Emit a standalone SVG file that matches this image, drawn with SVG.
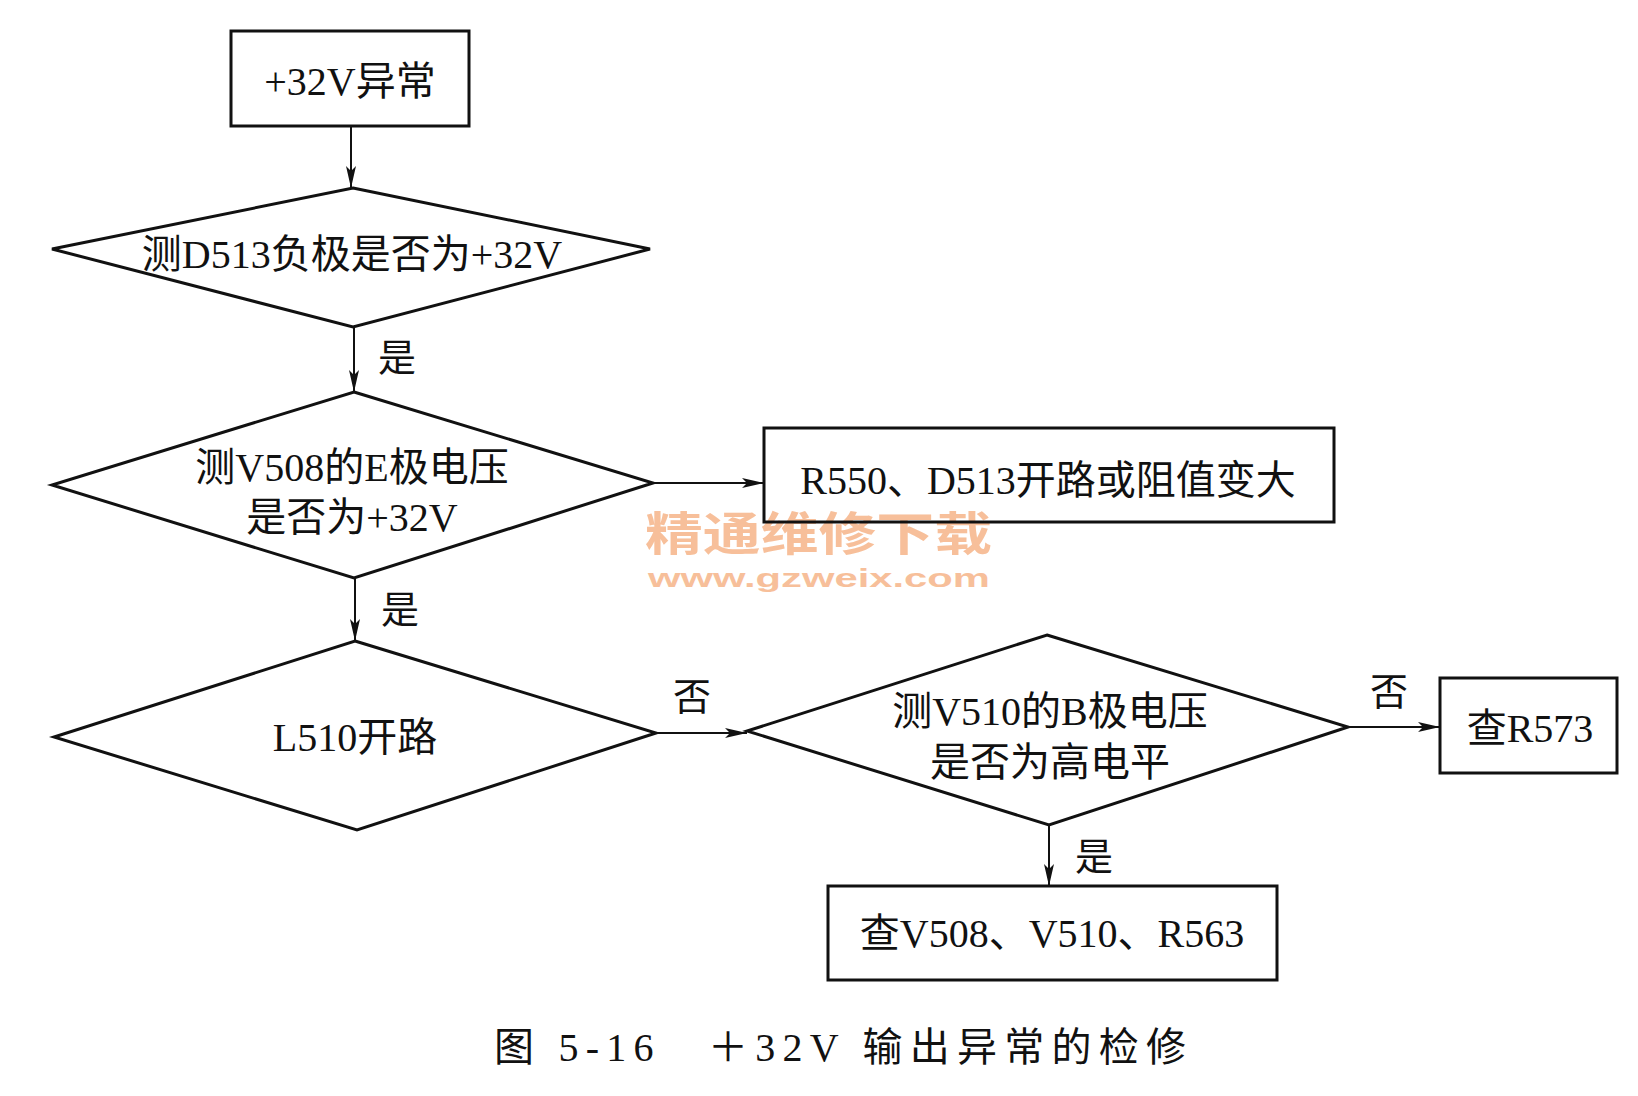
<svg xmlns="http://www.w3.org/2000/svg" width="1638" height="1096" viewBox="0 0 1638 1096">
<defs>
<style>
.shape{fill:none;stroke:#111;stroke-width:3}
.conn{fill:none;stroke:#111;stroke-width:2}
.t{font-family:"Liberation Serif","Noto Sans CJK SC",serif;font-size:40px;fill:#111;text-anchor:middle;dominant-baseline:central}
.lbl{font-family:"Liberation Serif","Noto Sans CJK SC",serif;font-size:38px;fill:#111;text-anchor:middle;dominant-baseline:central}
.cap{font-family:"Liberation Serif","Noto Sans CJK SC",serif;font-size:40px;fill:#111;dominant-baseline:central}
.wm{font-weight:bold;fill:#f6b589;opacity:0.85;dominant-baseline:central}
</style>
<marker id="ah" viewBox="0 0 22 10" refX="22" refY="5" markerWidth="22" markerHeight="10" markerUnits="userSpaceOnUse" orient="auto">
<path d="M0,0 L22,5 L0,10 L5,5 Z" fill="#111"/>
</marker>
</defs>
<rect width="1638" height="1096" fill="#fff"/>

<g id="watermark">
<text class="wm" x="645" y="530" font-size="46" font-family="Noto Sans CJK SC, sans-serif" textLength="347" lengthAdjust="spacingAndGlyphs">精通维修下载</text>
<text class="wm" x="648" y="578" font-size="26" font-family="Liberation Sans, sans-serif" textLength="342" lengthAdjust="spacingAndGlyphs">www.gzweix.com</text>
</g>

<g id="connectors">
<line class="conn" x1="351" y1="126" x2="351" y2="188" marker-end="url(#ah)"/>
<line class="conn" x1="354" y1="327" x2="354" y2="392" marker-end="url(#ah)"/>
<line class="conn" x1="653" y1="483" x2="764" y2="483" marker-end="url(#ah)"/>
<line class="conn" x1="355" y1="578" x2="355" y2="641" marker-end="url(#ah)"/>
<line class="conn" x1="656" y1="733" x2="747" y2="733" marker-end="url(#ah)"/>
<line class="conn" x1="1348" y1="727" x2="1440" y2="727" marker-end="url(#ah)"/>
<line class="conn" x1="1049" y1="825" x2="1049" y2="886" marker-end="url(#ah)"/>
<text class="lbl" x="397" y="358">是</text>
<text class="lbl" x="400" y="610">是</text>
<text class="lbl" x="692" y="697">否</text>
<text class="lbl" x="1389" y="692">否</text>
<text class="lbl" x="1094" y="857">是</text>
</g>

<g id="n1">
<rect class="shape" x="231" y="31" width="238" height="95"/>
<text class="t" x="350" y="81">+32V异常</text>
</g>

<g id="n2">
<polygon class="shape" points="353,188 650,249 353,327 52,249"/>
<text class="t" x="352" y="254">测D513负极是否为+32V</text>
</g>

<g id="n3">
<polygon class="shape" points="354,392 653,483 354,578 52,485"/>
<text class="t" x="352" y="467">测V508的E极电压</text>
<text class="t" x="352" y="517">是否为+32V</text>
</g>

<g id="n4">
<rect class="shape" x="764" y="428" width="570" height="94"/>
<text class="t" x="1048" y="480">R550、D513开路或阻值变大</text>
</g>

<g id="n5">
<polygon class="shape" points="355,641 656,733 357,830 54,737"/>
<text class="t" x="355" y="737">L510开路</text>
</g>

<g id="n6">
<polygon class="shape" points="1047,635 1348,727 1049,825 747,731"/>
<text class="t" x="1050" y="711">测V510的B极电压</text>
<text class="t" x="1050" y="762">是否为高电平</text>
</g>

<g id="n7">
<rect class="shape" x="1440" y="678" width="177" height="95"/>
<text class="t" x="1530" y="728">查R573</text>
</g>

<g id="n8">
<rect class="shape" x="828" y="886" width="449" height="94"/>
<text class="t" x="1052" y="933">查V508、V510、R563</text>
</g>

<g id="caption">
<text class="cap" x="494" y="1047" textLength="692" lengthAdjust="spacing">图 5-16　＋32V 输出异常的检修</text>
</g>
</svg>
